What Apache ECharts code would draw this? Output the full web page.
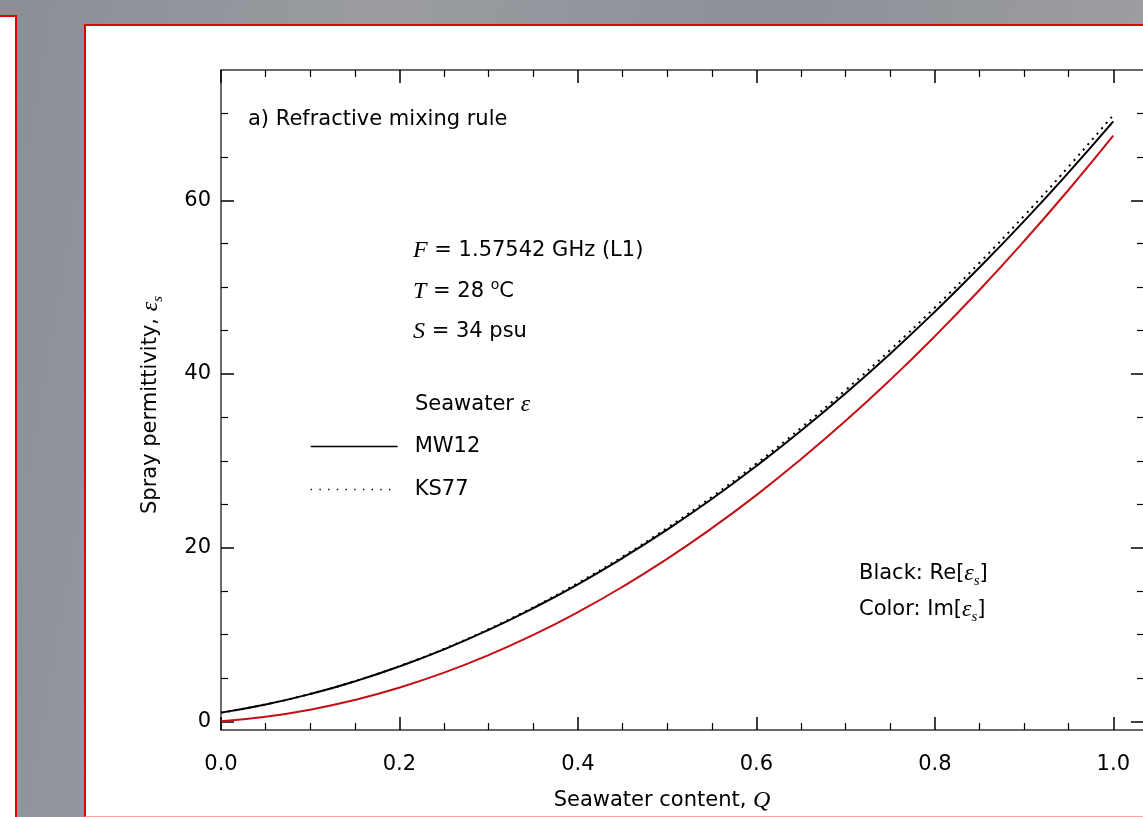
<!DOCTYPE html>
<html>
<head>
<meta charset="utf-8">
<script src="https://cdn.jsdelivr.net/npm/echarts@6/dist/echarts.min.js"></script>
<style>
  html, body { margin: 0; padding: 0; }
  body {
    width: 1143px; height: 817px; overflow: hidden; position: relative;
    background: linear-gradient(100deg, #8c8e95 0%, #9a9ca2 30%, #8e9097 60%, #a0a2a7 100%);
  }
  .panel { position: absolute; background: #fff; box-sizing: border-box; border: 2px solid #e00000; }
  #left { left: -12px; top: 15px; width: 29px; height: 900px; }
  #main { left: 84px; top: 24px; width: 1200px; height: 793px; border-bottom: 1px solid #f3a3a3; }
  #chart { position: absolute; left: 0; top: 0; width: 1160px; height: 817px; }
</style>
</head>
<body>
<div class="panel" id="left"></div>
<div class="panel" id="main"></div>
<div id="chart"></div>
<script>
// seawater content Q
const Q = [0, 0.05, 0.1, 0.15, 0.2, 0.25, 0.3, 0.35, 0.4, 0.45, 0.5,
  0.55, 0.6, 0.65, 0.7, 0.75, 0.8, 0.85, 0.9, 0.95, 1.0];
// Re[eps_s], MW12 seawater (solid black)
const reMW12 = [1.00, 1.94, 3.14, 4.60, 6.32, 8.29, 10.53, 13.03, 15.78, 18.80, 22.07,
  25.60, 29.40, 33.45, 37.76, 42.33, 47.17, 52.26, 57.60, 63.21, 69.08];
// Re[eps_s], KS77 seawater (dotted black)
const reKS77 = [1.00, 1.95, 3.15, 4.62, 6.36, 8.35, 10.61, 13.13, 15.92, 18.96, 22.27,
  25.84, 29.68, 33.78, 38.14, 42.76, 47.65, 52.80, 58.21, 63.88, 69.82];
// Im[eps_s], MW12 (red)
const imMW12 = [0.00, 0.52, 1.34, 2.46, 3.88, 5.60, 7.63, 9.95, 12.57, 15.49, 18.71,
  22.23, 26.05, 30.18, 34.60, 39.32, 44.34, 49.66, 55.29, 61.21, 67.43];

// tick values
const xTicks = [0, 0.2, 0.4, 0.6, 0.8, 1.0];
const yTicks = [0, 20, 40, 60];
const yMinorTicks = [5, 10, 15, 25, 30, 35, 45, 50, 55, 65, 70];

const pairs = arr => Q.map((q, i) => [q, arr[i]]);

const SANS = 'DejaVu Sans';
const SERIF = 'Liberation Serif';
const axisColor = '#3a3a3a';

const rich = {
  n: { fontFamily: SANS, fontSize: 21, color: '#000' },
  m: { fontFamily: SERIF, fontStyle: 'italic', fontSize: 24, color: '#000' },
  sub: { fontFamily: SERIF, fontStyle: 'italic', fontSize: 15, color: '#000', padding: [14, 0, 0, 0] },
  sup: { fontFamily: SANS, fontSize: 14, color: '#000', padding: [0, 0, 14, 0] }
};

function txt(x, y, text, align, rot) {
  return {
    type: 'text', x: x, y: y, rotation: rot || 0, z: 50,
    style: {
      text: text, x: 0, y: 0, rich: rich,
      fontFamily: SANS, fontSize: 21, fill: '#000',
      textAlign: align || 'left', textVerticalAlign: 'middle'
    }
  };
}

function xAxisCfg(pos, labels) {
  return {
    type: 'value', position: pos, min: 0, max: 1.0344, interval: 0.2,
    axisLine: { show: true, onZero: false, lineStyle: { color: axisColor, width: 1.5 } },
    axisTick: { show: true, inside: true, length: 13, lineStyle: { color: '#000', width: 1.5 } },
    minorTick: { show: true, splitNumber: 4, length: 7, lineStyle: { color: '#000', width: 1.2 } },
    splitLine: { show: false },
    axisLabel: {
      show: labels, margin: 24, fontFamily: SANS, fontSize: 21, color: '#000',
      showMaxLabel: false,
      formatter: v => xTicks.some(t => Math.abs(t - v) < 1e-6) ? v.toFixed(1) : ''
    }
  };
}

function yAxisCfg(pos, labels, values, len, line) {
  return {
    type: 'value', position: pos, min: -1, max: 75,
    axisLine: { show: line, onZero: false, lineStyle: { color: axisColor, width: 1.5 } },
    axisTick: { show: true, inside: true, length: len, customValues: values,
      lineStyle: { color: '#000', width: len > 10 ? 1.5 : 1.2 } },
    minorTick: { show: false },
    splitLine: { show: false },
    axisLabel: {
      show: labels, margin: 10, fontFamily: SANS, fontSize: 21, color: '#000',
      customValues: values
    }
  };
}

const chart = echarts.init(document.getElementById('chart'), null, { renderer: 'canvas' });

chart.setOption({
  backgroundColor: 'transparent',
  animation: false,
  grid: { left: 221, top: 70, width: 923, height: 660 },
  xAxis: [xAxisCfg('bottom', true), xAxisCfg('top', false)],
  yAxis: [
    yAxisCfg('left', true, yTicks, 13, true),
    yAxisCfg('right', false, yTicks, 13, true),
    yAxisCfg('left', false, yMinorTicks, 7, false),
    yAxisCfg('right', false, yMinorTicks, 7, false)
  ],
  legend: {
    data: [
      { name: 'MW12', lineStyle: { width: 1.3, type: 'solid', color: '#000' } },
      { name: 'KS77', lineStyle: { width: 1.4, type: [1.4, 7.3], color: '#000' } }
    ],
    orient: 'vertical', left: 305, top: 431,
    itemWidth: 87, itemHeight: 20, itemGap: 22,
    itemStyle: { color: 'rgba(0,0,0,0)', opacity: 0, borderWidth: 0 },
    textStyle: { fontFamily: SANS, fontSize: 21, lineHeight: 20, color: '#000', padding: [0, 0, 0, 12] },
    selectedMode: false
  },
  series: [
    {
      name: 'MW12', type: 'line', data: pairs(reMW12), smooth: true, showSymbol: false,
      symbol: 'none', lineStyle: { color: '#000', width: 2 }, itemStyle: { color: '#000' }, z: 3
    },
    {
      name: 'KS77', type: 'line', data: pairs(reKS77), smooth: true, showSymbol: false,
      symbol: 'none', lineStyle: { color: '#000', width: 2, type: [2, 5] }, itemStyle: { color: '#000' }, z: 2
    },
    {
      name: 'Im MW12', type: 'line', data: pairs(imMW12), smooth: true, showSymbol: false,
      symbol: 'none', lineStyle: { color: '#c21015', width: 2 }, itemStyle: { color: '#c21015' }, z: 4
    }
  ],
  graphic: [
    txt(248, 120, '{n|a) Refractive mixing rule}'),
    txt(413, 251, '{m|F}{n| = 1.57542 GHz (L1)}'),
    txt(413, 292, '{m|T}{n| = 28 }{sup|o}{n|C}'),
    txt(413, 332, '{m|S}{n| = 34 psu}'),
    txt(415, 405, '{n|Seawater }{m|ε}'),
    txt(859, 574, '{n|Black: Re[}{m|ε}{sub|s}{n|]}'),
    txt(859, 610, '{n|Color: Im[}{m|ε}{sub|s}{n|]}'),
    txt(151, 405, '{n|Spray permittivity, }{m|ε}{sub|s}', 'center', Math.PI / 2),
    txt(662, 801, '{n|Seawater content, }{m|Q}', 'center')
  ]
});

window.onresize = function () { chart.resize(); };
</script>
</body>
</html>
